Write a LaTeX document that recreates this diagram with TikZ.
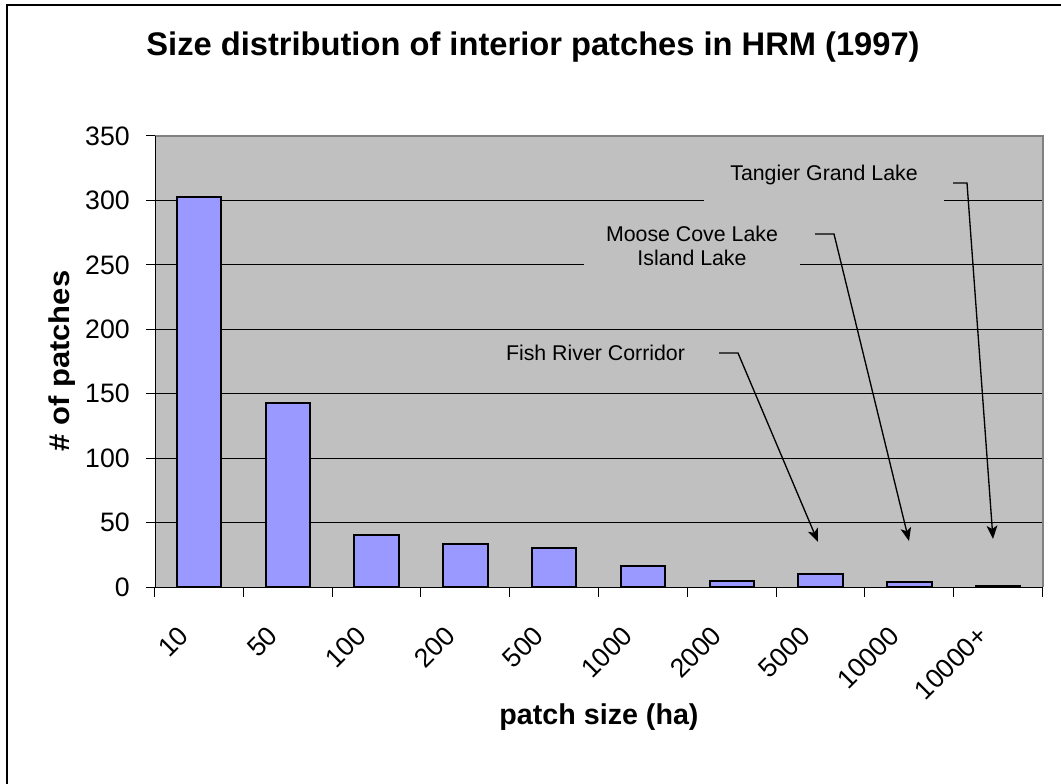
\documentclass[tikz,border=0pt]{standalone}
\usepackage{fontspec}
\setmainfont{Liberation Sans}
\usetikzlibrary{positioning, arrows.meta}
\definecolor{plotgray}{HTML}{C0C0C0}
\definecolor{barblue}{HTML}{9999FF}
\definecolor{edgegray}{HTML}{808080}

\begin{document}
\begin{tikzpicture}[x=0.75pt, y=-0.75pt,
    bar/.style={draw=black, line width=1.5pt, fill=barblue},
    grid/.style={black, line width=0.75pt},
    tick/.style={font=\fontsize{20}{24}\selectfont, inner sep=0pt},
    axtitle/.style={font=\bfseries\fontsize{21.5}{24}\selectfont},
    note/.style={font=\fontsize{16}{18}\selectfont, align=center, fill=plotgray, inner sep=0pt},
    lead/.style={line width=1pt, -{Stealth[length=10pt, width=8pt, inset=2.5pt]}}]
    \useasboundingbox (0,0) rectangle (1061,784);
    \fill[white] (0,0) rectangle (1061,784);
    \draw[line width=1.5pt] (7,784) -- (7,5) -- (1061,5);
    % plot area
    \fill[plotgray] (155,136) rectangle (1043,587);
    \foreach \v in {50,100,...,300}
        \draw[grid] (155,{587-\v*1.28857}) -- (1043,{587-\v*1.28857});
    \draw[edgegray, line width=1.5pt] (155,136) -- (1043,136) -- (1043,587);
    % bars
    \foreach \v [count=\i] in {303,143,40,33,30,16,5,10,4,1}
        \draw[bar] ({154.5+88.8*(\i-1)+22.2},587) rectangle ({154.5+88.8*\i-22.2},{587-\v*1.28857});
    % axes
    \draw[line width=0.75pt] (155,136) -- (155,587) -- (1043,587);
    \foreach \v in {0,50,...,350} {
        \draw[line width=0.75pt] (146,{587-\v*1.28857}) -- (155,{587-\v*1.28857});
        \node[tick, anchor=east] (y\v) at (130,{587-\v*1.28857}) {\v};
    }
    \foreach \k in {0,...,10}
        \draw[line width=0.75pt] ({154.5+88.8*\k},587) -- ({154.5+88.8*\k},597);
    \foreach \l [count=\i] in {10,50,100,200,500,1000,2000,5000,10000,10000+}
        \node[tick, rotate=45, anchor=east] (x\i) at ({154.5+88.8*(\i-0.5)-15},631) {\l};
    % titles
    \node[font=\bfseries\fontsize{24.5}{28}\selectfont] (title) at (533,47)
        {Size distribution of interior patches in HRM (1997)};
    \node[axtitle, rotate=90] (ylab) at (62,361) {\scalebox{1.08}[1]{\# of patches}};
    \node[axtitle] (xlab) at (599,717) {patch size (ha)};
    % call-outs
    \node[note, minimum width=180pt, text height=16pt, text depth=17pt, anchor=base] (tangier) at (824,181) {Tangier Grand Lake};
    \node[note, minimum width=162pt, inner ysep=4pt] (moose) at (692,246) {Moose Cove Lake\\Island Lake};
    \node[note, inner sep=3pt] (fish) at (595.5,353) {Fish River Corridor};
    \coordinate (tangierA) at (953,183);
    \coordinate (mooseA) at (815,234);
    \coordinate (fishA) at (719,353);
    \coordinate (tangierTip) at (993,539);
    \coordinate (mooseTip) at (909,541);
    \coordinate (fishTip) at (818,542);
    \draw[lead] (tangierA) -- ++(14,0) -- (tangierTip);
    \draw[lead] (mooseA) -- ++(19,0) -- (mooseTip);
    \draw[lead] (fishA) -- ++(19,0) -- (fishTip);
\end{tikzpicture}
\end{document}
